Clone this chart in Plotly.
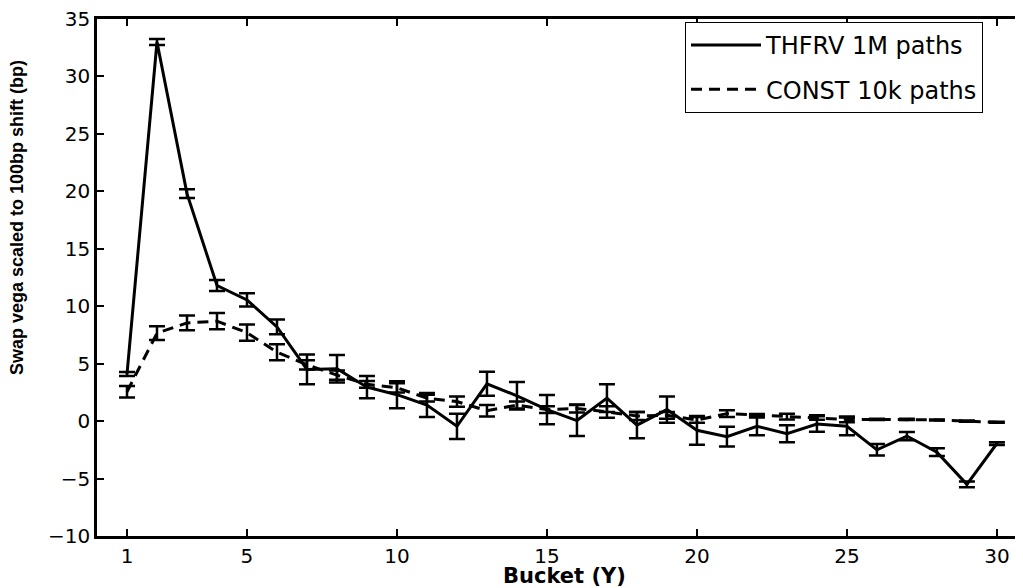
import plotly.graph_objects as go

buckets = list(range(1, 31))

thfrv_vals = [4.1, 33.0, 19.8, 11.8, 10.55, 8.2, 4.5, 4.55, 2.95, 2.3,
              1.4, -0.45, 3.25, 2.2, 1.0, 0.05, 2.0, -0.35, 1.0, -0.8,
              -1.35, -0.45, -1.1, -0.25, -0.45, -2.5, -1.3, -2.7, -5.5, -1.95]
thfrv_err = [0.17, 0.26, 0.38, 0.48, 0.58, 0.64, 1.3, 1.2, 0.97, 1.17,
             1.05, 1.1, 1.05, 1.2, 1.28, 1.35, 1.2, 1.15, 1.15, 1.25,
             0.87, 0.77, 0.75, 0.68, 0.77, 0.5, 0.36, 0.33, 0.25, 0.12]

const_vals = [2.55, 7.65, 8.55, 8.7, 7.7, 6.0, 4.9, 4.0, 3.2, 2.9,
              2.0, 1.7, 0.9, 1.4, 1.0, 1.1, 0.8, 0.45, 0.5, 0.1,
              0.65, 0.52, 0.4, 0.32, 0.15, 0.15, 0.15, 0.1, 0.0, -0.1]
const_err = [0.5, 0.6, 0.65, 0.7, 0.7, 0.7, 0.4, 0.4, 0.3, 0.4,
             0.3, 0.45, 0.5, 0.3, 0.3, 0.35, 0.5, 0.35, 0.3, 0.25,
             0.3, 0.1, 0.25, 0.2, 0.25, 0.05, 0.05, 0.05, 0.05, 0.05]

x_ticks = [1, 5, 10, 15, 20, 25, 30]
y_ticks = [-10, -5, 0, 5, 10, 15, 20, 25, 30, 35]

fig = go.Figure()
fig.add_trace(go.Scatter(
    x=buckets, y=thfrv_vals, mode="lines", name="THFRV 1M paths",
    line=dict(color="black", width=3),
    error_y=dict(type="data", array=thfrv_err, visible=True,
                 color="black", thickness=2.5, width=8),
    legendgroup="a",
))
fig.add_trace(go.Scatter(
    x=buckets, y=const_vals, mode="lines", name="CONST 10k paths",
    line=dict(color="black", width=3, dash="11px,7px"),
    error_y=dict(type="data", array=const_err, visible=True,
                 color="black", thickness=2.5, width=8),
    legendgroup="b",
))

axis_common = dict(
    showline=True, linecolor="black", linewidth=2.5, mirror="ticks",
    ticks="inside", ticklen=7, tickwidth=2, tickcolor="black",
    showgrid=False, zeroline=False, automargin=False,
    ticklabeloverflow="allow",
    tickfont=dict(family="DejaVu Sans", size=20, color="black"),
)

fig.update_xaxes(range=[0, 30.87], tickvals=x_ticks, **axis_common)
fig.update_yaxes(range=[-10, 35], tickvals=y_ticks,
                 ticktext=[str(v).replace("-", "\u2212") for v in y_ticks],
                 **axis_common)

# page body has an 8px default margin; figure sized to fit the window
fig.update_layout(
    width=1015, height=580,
    margin=dict(l=89, r=0, t=11, b=52, autoexpand=False),
    plot_bgcolor="white", paper_bgcolor="white",
    showlegend=True,
    legend=dict(
        x=0.635, y=(536 - 22) / 517, xanchor="left", yanchor="top",
        bordercolor="black", borderwidth=1, bgcolor="white",
        font=dict(family="DejaVu Sans", size=24, color="black"),
        traceorder="grouped", tracegroupgap=10, itemwidth=70,
    ),
    annotations=[
        dict(text="<b>Swap vega scaled to 100bp shift (bp)</b>",
             xref="paper", yref="paper",
             x=(17 - 97) / 926, y=(536 - 218) / 517,
             xanchor="center", yanchor="middle", textangle=-90,
             showarrow=False,
             font=dict(family="Liberation Sans", size=18, color="black")),
        dict(text="<b>Bucket (Y)</b>",
             xref="paper", yref="paper",
             x=(564 - 97) / 926, y=(536 - 576) / 517,
             xanchor="center", yanchor="middle", showarrow=False,
             font=dict(family="DejaVu Sans", size=21, color="black")),
    ],
)

fig.write_html("out.html")
